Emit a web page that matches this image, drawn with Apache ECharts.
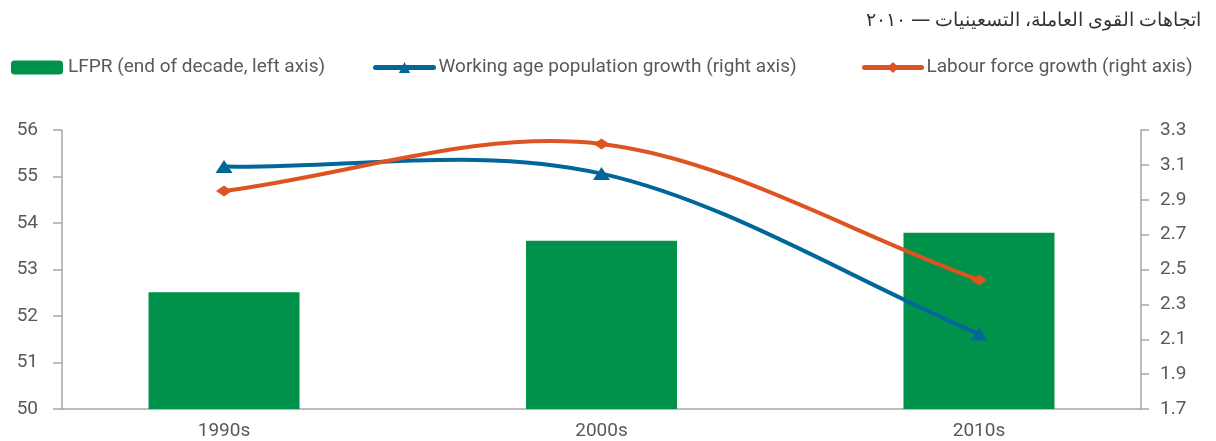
<!DOCTYPE html>
<html><head><meta charset="utf-8">
<script src="https://cdn.jsdelivr.net/npm/echarts@6/dist/echarts.min.js"></script>
<style>html,body{margin:0;padding:0;background:#fff}#c{width:1216px;height:441px}</style>
</head><body><div id="c"></div>
<script>
const titleText = 'اتجاهات القوى العاملة، التسعينيات — ٢٠١٠';
const categories = ['1990s', '2000s', '2010s'];
const lfpr = [52.51, 53.62, 53.79];
const workingAgeGrowth = [3.09, 3.05, 2.13];
const labourForceGrowth = [2.95, 3.22, 2.44];
const seriesNames = ['LFPR (end of decade, left axis)', 'Working age population growth (right axis)', 'Labour force growth (right axis)'];
const leftTicks = [50, 51, 52, 53, 54, 55, 56];
const rightTicks = [1.7, 1.9, 2.1, 2.3, 2.5, 2.7, 2.9, 3.1, 3.3];

const GREEN = '#00924a', BLUE = '#00679a', ORANGE = '#dd5322';
const FONT = 'Roboto, "Liberation Sans", sans-serif';
const TXT = '#595959', AXIS = '#a6a6a6';
const idx = categories.map((c, i) => i);

// smooth curve (Catmull-Rom style) through the data points, positioned by the axes
function curveSeries(values, color) {
  return {
    type: 'custom', xAxisIndex: 0, yAxisIndex: 1, z: 3, silent: true,
    data: idx.map(i => [i, values[i]]),
    encode: {x: 0, y: 1},
    renderItem: function (params, api) {
      if (params.dataIndex !== 0) return null;
      const p = idx.map(i => api.coord([i, values[i]]));
      const n = p.length;
      const tan = p.map((pt, i) => {
        const a = p[Math.max(0, i - 1)], b = p[Math.min(n - 1, i + 1)];
        const d = (i === 0 || i === n - 1) ? 1 : 2;
        return [(b[0] - a[0]) / d, (b[1] - a[1]) / d];
      });
      let d = 'M' + p[0][0] + ' ' + p[0][1];
      for (let i = 0; i < n - 1; i++) {
        const c1 = [p[i][0] + tan[i][0] / 3, p[i][1] + tan[i][1] / 3];
        const c2 = [p[i + 1][0] - tan[i + 1][0] / 3, p[i + 1][1] - tan[i + 1][1] / 3];
        d += ' C' + c1[0] + ' ' + c1[1] + ' ' + c2[0] + ' ' + c2[1] + ' ' + p[i + 1][0] + ' ' + p[i + 1][1];
      }
      return {type: 'path', shape: {pathData: d}, style: {fill: 'none', stroke: color, lineWidth: 4, lineCap: 'round'}};
    }
  };
}

const chart = echarts.init(document.getElementById('c'), null, {renderer: 'canvas'});
const legendBase = {top: 58, itemHeight: 14, textStyle: {fontFamily: FONT, fontSize: 19, color: TXT}, itemGap: 4, padding: 0};
chart.setOption({
  animation: false,
  title: {text: titleText, right: 10, top: 6, textStyle: {fontFamily: '"Noto Sans", sans-serif', fontSize: 19, fontWeight: 'normal', color: '#333'}},
  legend: [
    Object.assign({}, legendBase, {left: 11, itemWidth: 52, data: [seriesNames[0]]}),
    Object.assign({}, legendBase, {left: 373, itemWidth: 58, data: [{name: seriesNames[1], lineStyle: {opacity: 1, width: 5, color: BLUE, cap: 'round'}}]}),
    Object.assign({}, legendBase, {left: 862, itemWidth: 57, data: [{name: seriesNames[2], lineStyle: {opacity: 1, width: 5, color: ORANGE, cap: 'round'}}]})
  ],
  grid: {left: 62, right: 75, top: 130, bottom: 31},
  xAxis: {
    type: 'value', min: -0.4292, max: 2.4292,
    splitLine: {show: false},
    axisLine: {show: true, onZero: false, lineStyle: {color: AXIS, width: 1.5}},
    axisTick: {show: false},
    axisLabel: {customValues: idx, formatter: v => categories[Math.round(v)], fontFamily: FONT, fontSize: 19, color: TXT, margin: 13}
  },
  yAxis: [
    {type: 'value', min: 50, max: 56, interval: 1, position: 'left',
     splitLine: {show: false},
     axisLine: {show: true, onZero: false, lineStyle: {color: AXIS, width: 1.5}},
     axisTick: {show: true, length: 9, lineStyle: {color: AXIS, width: 1.5}},
     axisLabel: {customValues: leftTicks, fontFamily: FONT, fontSize: 19, color: TXT, margin: 24}},
    {type: 'value', min: 1.7, max: 3.3, interval: 0.2, position: 'right',
     splitLine: {show: false},
     axisLine: {show: true, onZero: false, lineStyle: {color: AXIS, width: 1.5}},
     axisTick: {show: true, length: 8, lineStyle: {color: AXIS, width: 1.5}},
     axisLabel: {customValues: rightTicks, formatter: v => v.toFixed(1), fontFamily: FONT, fontSize: 19, color: TXT, margin: 19}}
  ],
  series: [
    {name: seriesNames[0], type: 'bar', yAxisIndex: 0, barWidth: 151,
     itemStyle: {color: GREEN},
     data: idx.map(i => [i, lfpr[i]])},
    curveSeries(workingAgeGrowth, BLUE),
    curveSeries(labourForceGrowth, ORANGE),
    {name: seriesNames[1], type: 'line', yAxisIndex: 1, z: 4,
     symbol: 'triangle', symbolSize: [17, 13], showSymbol: true,
     lineStyle: {color: BLUE, width: 4, opacity: 0}, itemStyle: {color: BLUE},
     data: idx.map(i => [i, workingAgeGrowth[i]])},
    {name: seriesNames[2], type: 'line', yAxisIndex: 1, z: 4,
     symbol: 'diamond', symbolSize: [16, 11], showSymbol: true,
     lineStyle: {color: ORANGE, width: 4, opacity: 0}, itemStyle: {color: ORANGE},
     data: idx.map(i => [i, labourForceGrowth[i]])}
  ]
});
</script></body></html>
